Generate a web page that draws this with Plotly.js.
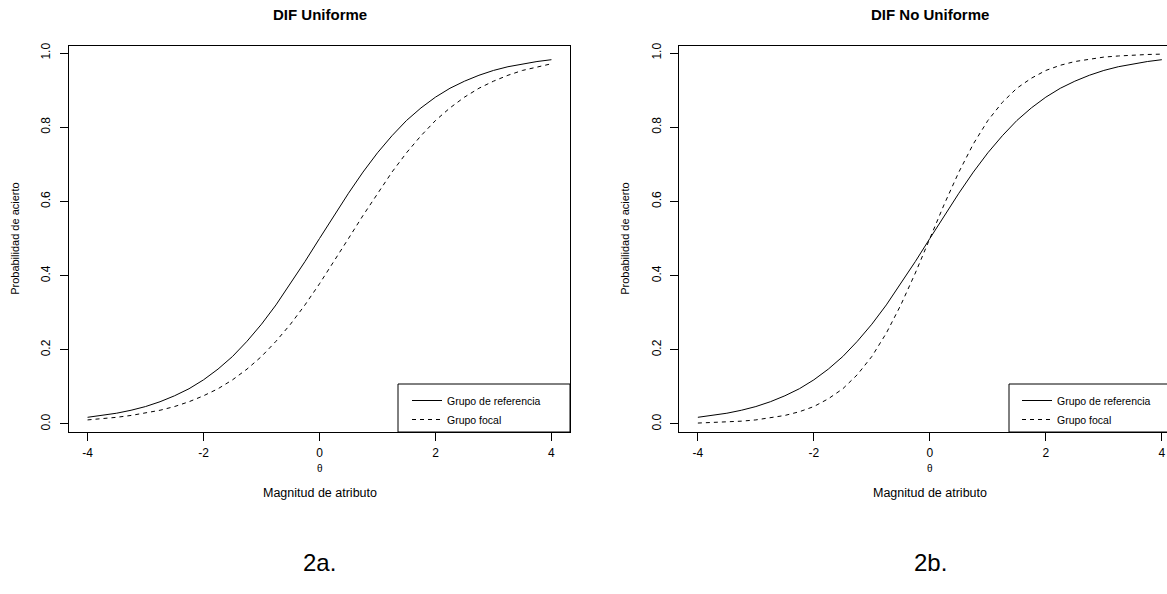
<!DOCTYPE html>
<html>
<head>
<meta charset="utf-8">
<script src="https://cdn.plot.ly/plotly-3.0.1.min.js"></script>
<style>html,body{margin:0;padding:0;background:#fff;}#chart{width:1167px;height:594px;}</style>
</head>
<body>
<div id="chart"></div>
<script>
// theta values
const theta = [-4,-3.75,-3.5,-3.25,-3,-2.75,-2.5,-2.25,-2,-1.75,-1.5,-1.25,-1,-0.75,-0.5,-0.25,0,
  0.25,0.5,0.75,1,1.25,1.5,1.75,2,2.25,2.5,2.75,3,3.25,3.5,3.75,4];
// Panel 2a: reference group (solid)
const refUniform = [0.018,0.023,0.029,0.037,0.047,0.060,0.076,0.095,0.119,0.148,0.182,0.223,0.269,0.321,0.378,0.438,0.500,
  0.562,0.622,0.679,0.731,0.777,0.818,0.852,0.881,0.905,0.924,0.940,0.953,0.963,0.971,0.977,0.982];
// Panel 2a: focal group (dashed)
const focalUniform = [0.011,0.014,0.018,0.023,0.029,0.037,0.047,0.060,0.076,0.095,0.119,0.148,0.182,0.223,0.269,0.321,0.378,
  0.438,0.500,0.562,0.622,0.679,0.731,0.777,0.818,0.852,0.881,0.905,0.924,0.940,0.953,0.963,0.971];
// Panel 2b: reference group (solid)
const refNonUniform = [0.018,0.023,0.029,0.037,0.047,0.060,0.076,0.095,0.119,0.148,0.182,0.223,0.269,0.321,0.378,0.438,0.500,
  0.562,0.622,0.679,0.731,0.777,0.818,0.852,0.881,0.905,0.924,0.940,0.953,0.963,0.971,0.977,0.982];
// Panel 2b: focal group (dashed)
const focalNonUniform = [0.0025,0.0036,0.0052,0.0076,0.011,0.016,0.023,0.033,0.047,0.068,0.095,0.133,0.182,0.245,0.321,0.407,0.500,
  0.593,0.679,0.755,0.818,0.867,0.905,0.932,0.953,0.967,0.977,0.984,0.989,0.992,0.995,0.996,0.997];

const xTickVals = [-4,-2,0,2,4];
const xTickText = ['-4','-2','0','2','4'];
const yTickVals = [0,0.2,0.4,0.6,0.8,1.0];
const yTickText = ['0.0','0.2','0.4','0.6','0.8','1.0'];
const seriesNames = ['Grupo de referencia','Grupo focal'];
const panelTitles = ['DIF Uniforme','DIF No Uniforme'];
const panelLabels = ['2a.','2b.'];
const yTitle = 'Probabilidad de acierto';
const xSymbol = 'θ';
const xTitle = 'Magnitud de atributo';

const FONT = 'Arial, "Liberation Sans", Helvetica, sans-serif';
const W = 1167, H = 594;
const solid = {color:'#000', width:1, dash:'solid'};
const dashed = {color:'#000', width:1, dash:'4px,4px'};

const traces = [
  {x:theta, y:refUniform, type:'scatter', mode:'lines', name:seriesNames[0], line:solid, xaxis:'x', yaxis:'y', legend:'legend'},
  {x:theta, y:focalUniform, type:'scatter', mode:'lines', name:seriesNames[1], line:dashed, xaxis:'x', yaxis:'y', legend:'legend'},
  {x:theta, y:refNonUniform, type:'scatter', mode:'lines', name:seriesNames[0], line:solid, xaxis:'x2', yaxis:'y2', legend:'legend2'},
  {x:theta, y:focalNonUniform, type:'scatter', mode:'lines', name:seriesNames[1], line:dashed, xaxis:'x2', yaxis:'y2', legend:'legend2'}
];

const yDom = [(H-432)/H, (H-45.7)/H];
const x1Dom = [69/W, 570/W];
const x2Dom = [679.3/W, 1];

function xax(domain, range, anchor){
  return {domain, range, anchor, tickmode:'array', tickvals:xTickVals, ticktext:xTickText,
    ticks:'outside', ticklen:8, tickwidth:1, tickcolor:'#000', showline:true, mirror:true,
    linecolor:'#000', linewidth:1, showgrid:false, zeroline:false, fixedrange:true,
    tickfont:{family:FONT, size:12, color:'#000'}, ticklabelstandoff:2};
}
function yax(anchor){
  return {domain:yDom, range:[-0.0216,1.0197], anchor, tickmode:'array', tickvals:yTickVals, ticktext:yTickText,
    tickangle:-90, ticks:'outside', ticklen:8, tickwidth:1, tickcolor:'#000', showline:true, mirror:true,
    linecolor:'#000', linewidth:1, showgrid:false, zeroline:false, fixedrange:true,
    tickfont:{family:FONT, size:12, color:'#000'}, ticklabelstandoff:5};
}

const centers = [(x1Dom[0]+x1Dom[1])/2*W, 930];
const annotations = [];
for (let i=0;i<2;i++){
  const cx = centers[i]/W;
  annotations.push({text:'<b>'+panelTitles[i]+'</b>', xref:'paper', yref:'paper', x:cx, y:(H-14)/H,
    xanchor:'center', yanchor:'middle', showarrow:false, font:{family:FONT, size:15, color:'#000'}});
  annotations.push({text:xSymbol, xref:'paper', yref:'paper', x:cx, y:(H-468)/H,
    xanchor:'center', yanchor:'middle', showarrow:false, font:{family:FONT, size:10, color:'#000'}});
  annotations.push({text:xTitle, xref:'paper', yref:'paper', x:cx, y:(H-493)/H,
    xanchor:'center', yanchor:'middle', showarrow:false, font:{family:FONT, size:12.5, color:'#000'}});
  annotations.push({text:panelLabels[i], xref:'paper', yref:'paper', x:cx, y:(H-562)/H,
    xanchor:'center', yanchor:'middle', showarrow:false, font:{family:FONT, size:24, color:'#000'}});
}
const yTitleX = [15, 625];
for (let i=0;i<2;i++){
  annotations.push({text:yTitle, xref:'paper', yref:'paper', x:yTitleX[i]/W, y:(yDom[0]+yDom[1])/2,
    xanchor:'center', yanchor:'middle', textangle:-90, showarrow:false, font:{family:FONT, size:11, color:'#000'}});
}

const shapes = [
  {type:'rect', xref:'paper', yref:'paper', x0:398/W, x1:570/W, y0:(H-432)/H, y1:(H-384)/H, line:{color:'#000', width:1}, fillcolor:'rgba(0,0,0,0)'},
  {type:'rect', xref:'paper', yref:'paper', x0:1009/W, x1:1.01, y0:(H-432)/H, y1:(H-384)/H, line:{color:'#000', width:1}, fillcolor:'rgba(0,0,0,0)'}
];

function leg(xpx){
  return {x:xpx/W, y:(H-386)/H, xref:'paper', yref:'paper', xanchor:'left', yanchor:'top',
    bgcolor:'rgba(0,0,0,0)', borderwidth:0, itemwidth:30, tracegroupgap:0,
    font:{family:FONT, size:10.5, color:'#000'}};
}

const layout = {
  width:W, height:H, margin:{l:0,r:0,t:0,b:0,pad:0},
  paper_bgcolor:'#fff', plot_bgcolor:'#fff', showlegend:true,
  xaxis:xax(x1Dom, [-4.32,4.32], 'y'),
  yaxis:yax('x'),
  xaxis2:xax(x2Dom, [-4.32,4.089], 'y2'),
  yaxis2:yax('x2'),
  legend:leg(407), legend2:leg(1017),
  annotations, shapes
};

Plotly.newPlot('chart', traces, layout, {displayModeBar:false, staticPlot:true});
</script>
</body>
</html>
